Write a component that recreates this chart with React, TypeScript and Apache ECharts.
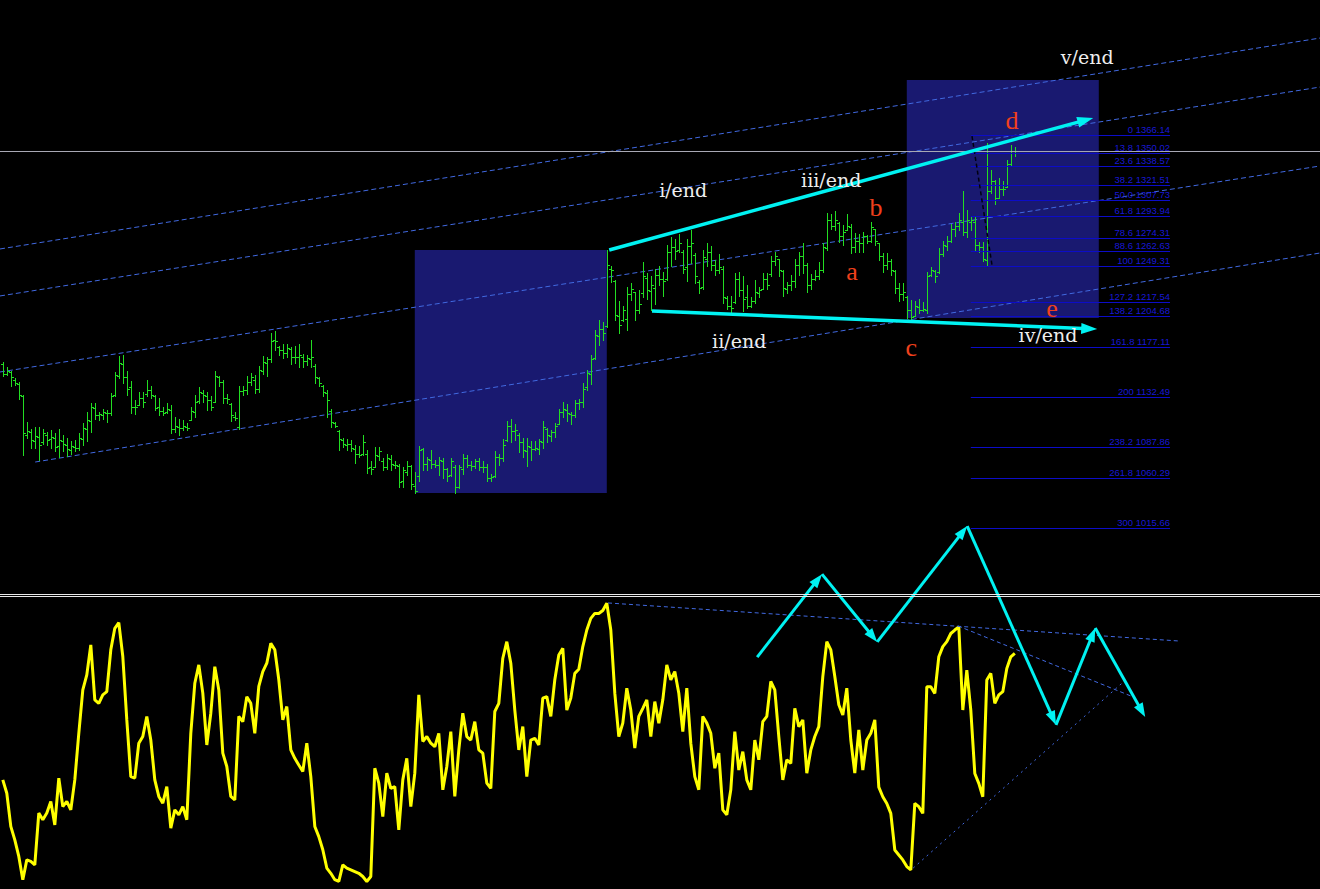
import React, { useEffect, useRef } from 'react';
import * as echarts from 'echarts';

// ---------- DATA ----------
// OHLC bars: [open, high, low, close]
const bars: number[][] = [
  [1162,1164,1151,1153],[1153,1159,1152,1156],[1155,1156,1142,1150],[1148,1149,1143,1145],[1144,1146,1131,1134],
  [1133,1134,1081,1100],[1099,1110,1096,1102],[1101,1104,1087,1094],[1093,1106,1087,1098],[1097,1106,1076,1090],
  [1092,1104,1091,1100],[1099,1101,1090,1094],[1095,1103,1087,1097],[1096,1100,1084,1088],[1089,1104,1079,1094],
  [1093,1099,1084,1091],[1090,1096,1080,1086],[1085,1093,1082,1089],[1088,1094,1084,1087],[1087,1100,1085,1096],
  [1095,1109,1090,1105],[1104,1119,1093,1112],[1111,1127,1101,1124],[1123,1127,1113,1116],[1116,1119,1112,1117],
  [1116,1122,1113,1119],[1118,1121,1110,1118],[1118,1136,1116,1133],[1134,1155,1133,1152],[1151,1169,1149,1163],
  [1162,1170,1145,1150],[1150,1156,1134,1140],[1141,1147,1118,1124],[1124,1130,1117,1124],[1125,1137,1125,1132],
  [1132,1137,1124,1128],[1135,1148,1133,1139],[1139,1142,1132,1134],[1133,1134,1121,1123],[1124,1132,1116,1120],
  [1120,1124,1116,1118],[1119,1127,1118,1122],[1121,1125,1100,1104],[1104,1115,1101,1107],[1106,1113,1099,1105],
  [1105,1112,1103,1107],[1106,1109,1103,1105],[1112,1124,1112,1120],[1119,1134,1115,1128],[1129,1141,1127,1137],
  [1136,1139,1128,1134],[1133,1137,1121,1130],[1130,1133,1121,1124],[1128,1156,1128,1151],[1150,1151,1142,1146],
  [1146,1148,1127,1132],[1132,1135,1127,1131],[1126,1127,1111,1116],[1115,1119,1112,1114],[1106,1142,1104,1138],
  [1138,1142,1134,1139],[1139,1151,1135,1146],[1146,1154,1143,1150],[1148,1152,1136,1140],[1140,1160,1137,1157],
  [1156,1169,1153,1164],[1163,1168,1151,1166],[1166,1190,1164,1182],[1183,1191,1174,1182],[1177,1178,1170,1174],
  [1174,1180,1167,1172],[1172,1180,1168,1176],[1175,1177,1162,1168],[1168,1178,1163,1168],[1168,1180,1159,1170],
  [1168,1171,1159,1165],[1165,1170,1161,1167],[1166,1183,1159,1168],[1160,1162,1145,1150],[1149,1150,1142,1145],
  [1142,1143,1133,1137],[1136,1139,1115,1130],[1120,1122,1106,1110],[1109,1110,1106,1107],[1102,1103,1085,1095],
  [1094,1096,1088,1091],[1090,1095,1085,1091],[1091,1094,1084,1087],[1086,1090,1074,1082],[1082,1089,1079,1081],
  [1082,1099,1081,1092],[1082,1085,1065,1069],[1070,1075,1064,1068],[1070,1088,1070,1081],[1080,1088,1076,1084],
  [1075,1078,1067,1070],[1070,1082,1068,1078],[1077,1081,1067,1073],[1072,1075,1069,1072],[1071,1073,1052,1057],
  [1058,1070,1052,1067],[1066,1075,1063,1071],[1071,1072,1050,1055],[1053,1066,1047,1049],[1062,1089,1058,1085],
  [1086,1087,1067,1073],[1073,1079,1067,1077],[1076,1085,1069,1073],[1073,1076,1070,1072],[1072,1079,1063,1076],
  [1075,1078,1060,1068],[1068,1069,1058,1062],[1063,1078,1062,1075],[1070,1072,1047,1052],[1052,1072,1051,1070],
  [1068,1082,1064,1078],[1078,1081,1070,1072],[1072,1075,1067,1071],[1071,1077,1069,1075],[1075,1078,1067,1070],
  [1070,1075,1066,1070],[1070,1073,1058,1060],[1060,1064,1058,1061],[1062,1084,1061,1079],[1079,1082,1072,1078],
  [1078,1095,1075,1090],[1094,1111,1093,1107],[1107,1113,1092,1102],[1102,1108,1094,1103],[1099,1100,1083,1092],
  [1092,1096,1079,1085],[1084,1096,1071,1089],[1088,1093,1076,1086],[1086,1093,1085,1087],[1086,1095,1082,1093],
  [1092,1111,1087,1106],[1104,1105,1092,1099],[1098,1103,1093,1101],[1101,1109,1097,1107],[1108,1122,1108,1119],
  [1119,1128,1115,1122],[1121,1126,1111,1118],[1117,1119,1108,1116],[1116,1130,1115,1127],[1127,1131,1122,1128],
  [1128,1145,1124,1140],[1141,1157,1139,1154],[1153,1170,1144,1166],[1167,1192,1166,1188],[1187,1201,1179,1193],
  [1193,1199,1183,1190],[1196,1264,1195,1250],[1247,1249,1235,1246],[1236,1237,1201,1206],[1205,1218,1190,1197],
  [1201,1214,1200,1210],[1202,1231,1192,1224],[1224,1234,1219,1229],[1226,1226,1201,1210],[1210,1228,1207,1215],
  [1225,1253,1222,1240],[1239,1243,1220,1228],[1227,1240,1210,1232],[1230,1247,1215,1241],[1241,1249,1232,1238],
  [1238,1244,1223,1236],[1238,1268,1237,1262],[1262,1275,1249,1266],[1266,1273,1256,1263],[1264,1278,1262,1270],
  [1262,1264,1243,1247],[1248,1273,1236,1267],[1267,1281,1252,1270],[1259,1261,1234,1240],[1235,1237,1225,1230],
  [1231,1264,1229,1257],[1256,1270,1249,1262],[1262,1267,1246,1250],[1250,1255,1241,1246],[1246,1260,1243,1248],
  [1247,1249,1216,1222],[1221,1223,1211,1214],[1214,1223,1207,1212],[1217,1243,1216,1238],[1238,1244,1223,1228],
  [1228,1240,1209,1220],[1222,1232,1212,1214],[1214,1222,1213,1218],[1218,1237,1216,1226],[1225,1231,1222,1228],
  [1229,1243,1229,1238],[1238,1243,1229,1232],[1242,1258,1240,1254],[1254,1262,1250,1258],[1256,1256,1240,1246],
  [1245,1246,1223,1230],[1229,1235,1225,1232],[1232,1241,1228,1236],[1236,1256,1231,1250],[1250,1262,1241,1258],
  [1258,1270,1243,1250],[1250,1252,1226,1232],[1232,1242,1229,1238],[1238,1246,1237,1240],[1240,1253,1238,1246],
  [1246,1270,1244,1266],[1265,1297,1264,1290],[1290,1296,1282,1285],[1285,1298,1281,1290],[1288,1289,1271,1276],
  [1276,1286,1268,1280],[1281,1296,1281,1285],[1284,1287,1261,1266],[1266,1279,1262,1272],[1272,1278,1262,1270],
  [1270,1280,1262,1276],[1276,1277,1270,1272],[1272,1289,1271,1284],[1282,1282,1268,1272],[1270,1270,1255,1258],
  [1258,1261,1244,1250],[1250,1261,1247,1254],[1254,1256,1241,1246],[1245,1246,1225,1230],[1230,1234,1218,1224],
  [1224,1234,1219,1226],[1222,1223,1203,1210],[1210,1219,1201,1204],[1205,1218,1205,1214],[1213,1220,1207,1210],
  [1210,1217,1209,1211],[1210,1244,1207,1240],[1241,1248,1240,1246],[1245,1246,1235,1240],[1244,1265,1243,1260],
  [1260,1272,1258,1268],[1267,1276,1264,1272],[1272,1287,1271,1282],[1282,1289,1276,1285],[1285,1297,1281,1290],
  [1289,1316,1277,1280],[1280,1299,1275,1290],[1289,1293,1281,1290],[1289,1293,1264,1268],[1268,1271,1262,1266],
  [1266,1271,1254,1256],[1255,1359,1249,1316],[1316,1335,1314,1325],[1325,1326,1305,1310],[1310,1328,1310,1318],
  [1318,1325,1313,1318],[1320,1344,1320,1340],[1340,1357,1339,1350],[1350,1355,1347,1352],
];

// oscillator values (0..100)
const oscillator: number[] = [
  37.5,32.9,21.5,16.9,11.2,3.2,10.0,9.5,8.3,26.1,
  23.8,26.1,30.1,22.0,38.1,28.3,30.1,27.2,37.5,53.5,
  68.4,73.6,83.9,65.0,63.8,66.7,67.8,82.2,89.6,91.5,
  79.9,58.1,38.6,38.1,50.1,52.4,59.3,51.2,37.5,31.8,
  29.5,35.2,20.9,27.2,25.5,28.3,23.8,53.5,70.7,77.0,
  67.3,49.5,60.4,76.4,68.4,46.7,42.1,31.8,30.6,59.3,
  57.5,66.1,63.8,53.5,69.6,74.7,77.6,84.4,82.2,71.9,
  58.1,62.7,47.8,44.9,42.6,40.4,50.1,38.6,21.5,18.0,
  13.5,7.2,5.4,3.2,2.6,8.3,7.2,6.6,6.0,5.4,
  4.3,2.6,4.3,41.5,36.4,24.9,39.8,34.6,35.2,20.3,
  37.5,44.9,28.3,39.8,66.7,50.7,52.4,50.1,48.9,53.5,
  34.1,42.1,54.1,31.8,47.8,60.4,52.4,51.2,57.5,47.8,
  46.7,36.4,34.6,61.0,63.8,79.3,85.0,77.6,61.5,47.8,
  55.8,38.6,51.2,51.8,49.5,65.6,66.1,59.3,71.9,80.4,
  82.7,61.5,65.6,74.1,75.5,83.3,89.0,93.0,94.7,94.7,
  95.7,98.2,89.0,67.3,52.4,57.0,69.0,61.5,48.4,59.3,
  62.1,65.0,52.4,64.4,57.0,65.0,77.0,71.9,74.7,67.3,
  54.1,69.0,50.1,38.6,34.1,59.3,57.0,53.5,41.5,46.7,
  27.2,25.5,34.1,54.1,40.9,47.2,37.5,34.1,51.2,44.4,
  57.5,59.3,71.3,68.4,52.4,37.5,44.4,43.2,62.1,55.8,
  58.1,39.8,47.8,52.4,55.8,73.0,85.0,82.2,73.0,63.3,
  59.8,69.0,51.2,39.8,54.7,40.9,51.2,53.5,58.1,35.0,
  31.7,29.4,26.0,13.4,11.7,10.0,7.7,6.6,29.4,28.3,
  26.0,69.5,69.5,67.2,79.8,83.3,85.0,87.8,89.0,90.1,
  61.5,75.2,61.5,39.7,36.3,31.7,71.8,74.1,63.8,66.7,
  67.8,75.8,79.8,81.0,
];

const fibRatios = ['0','13.8','23.6','38.2','50.0','61.8','78.6','88.6','100','127.2','138.2','161.8','200','238.2','261.8','300'];
const fibPrices = [1366.14,1350.02,1338.57,1321.51,1307.73,1293.94,1274.31,1262.63,1249.31,1217.54,1204.68,1177.11,1132.49,1087.86,1060.29,1015.66];
const fibSpan = [242, 291.8]; // bar index range of the fibo levels
const bidPrice = 1351.25;

// rectangles: [barFrom, priceLow, barTo, priceHigh]
const boxes = [[103, 1046.9, 151, 1263.6], [226, 1202.9, 274, 1415.2]];
// dashed channel lines: [bar1, price1, bar2, price2]
const channelLines = [
  [8.1, 1074.5, 329.3, 1260.9],
  [-0.7, 1154.8, 329.3, 1338.5],
  [-0.7, 1222.6, 329.3, 1408.9],
  [-0.7, 1264.5, 329.3, 1452.6],
];
const fibTrend = [[242.3, 1365.2, 247.3, 1250.2]];
const waveArrows = [[151.6, 1263.6, 272.6, 1381.3], [162.3, 1209.2, 273.6, 1193.1]];

const waveTags = ['i/end', 'ii/end', 'iii/end', 'iv/end', 'v/end'];
const waveTagBar = [170.1, 184.1, 207.1, 261.3, 271.1];
const waveTagPrice = [1317.1, 1182.4, 1326.0, 1187.8, 1435.7];
const legTags = ['a', 'b', 'c', 'd', 'e'];
const legTagBar = [212.3, 218.3, 227.1, 252.3, 262.3];
const legTagPrice = [1244.8, 1301.9, 1176.2, 1379.5, 1211.0];

// oscillator-panel lines: [bar1, value1, bar2, value2]
const oscDashed = [[151.3, 98.3, 294.3, 85.2], [238.8, 90.4, 282.6, 66.0]];
const oscDotted = [[227.6, 7.2, 280.1, 71.1]];
// forecast zig-zag in oscillator units: [bar, value]
const forecastPath = [[188.6, 79.7], [204.8, 108.2], [218.6, 84.9], [241.1, 124.7], [263.3, 56.4], [273.1, 89.7], [285.6, 59.1]];

// ---------- STYLE ----------
const GREEN = '#22dd22';
const CYAN = '#00f2f2';
const CHANNEL = '#4169e1';
const FIB = '#0c0cc8';

const segRender = (style: any, arrow?: { L: number; W: number }) => (_p: any, api: any) => {
  const a = api.coord([api.value(0), api.value(1)]);
  const b = api.coord([api.value(2), api.value(3)]);
  if (!arrow) {
    return { type: 'line', shape: { x1: a[0], y1: a[1], x2: b[0], y2: b[1] }, style };
  }
  const dx = b[0] - a[0], dy = b[1] - a[1];
  const len = Math.hypot(dx, dy) || 1;
  const ux = dx / len, uy = dy / len;
  const bx = b[0] - ux * arrow.L, by = b[1] - uy * arrow.L;
  return {
    type: 'group',
    children: [
      { type: 'line', shape: { x1: a[0], y1: a[1], x2: b[0] - ux * arrow.L * 0.5, y2: b[1] - uy * arrow.L * 0.5 }, style },
      {
        type: 'polygon',
        shape: { points: [[b[0], b[1]], [bx - uy * arrow.W, by + ux * arrow.W], [bx + uy * arrow.W, by - ux * arrow.W]] },
        style: { fill: style.stroke },
      },
    ],
  };
};

const buildOption = () => {
  const forecastSegs = forecastPath.slice(1).map((p, k) => [forecastPath[k][0], forecastPath[k][1], p[0], p[1]]);
  return {
    animation: false,
    backgroundColor: '#000000',
    grid: [
      { left: 0, top: 0, width: 1320, height: 593 },
      { left: 0, top: 598, width: 1320, height: 291 },
    ],
    xAxis: [
      { type: 'value', gridIndex: 0, min: -0.7, max: 329.3, show: false, splitLine: { show: false } },
      { type: 'value', gridIndex: 1, min: -0.7, max: 329.3, show: false, splitLine: { show: false } },
    ],
    yAxis: [
      { type: 'value', gridIndex: 0, min: 957.69, max: 1486.54, show: false, splitLine: { show: false } },
      { type: 'value', gridIndex: 1, min: 0, max: 100, show: false, splitLine: { show: false } },
    ],
    series: [
      {
        type: 'custom', name: 'boxes', xAxisIndex: 0, yAxisIndex: 0, z: 1,
        data: boxes,
        renderItem: (_p: any, api: any) => {
          const a = api.coord([api.value(0), api.value(3)]);
          const b = api.coord([api.value(2), api.value(1)]);
          return { type: 'rect', shape: { x: a[0], y: a[1], width: b[0] - a[0], height: b[1] - a[1] }, style: { fill: '#191970' } };
        },
      },
      {
        type: 'custom', name: 'channels', xAxisIndex: 0, yAxisIndex: 0, z: 2, clip: true,
        data: channelLines,
        renderItem: segRender({ stroke: CHANNEL, lineWidth: 1, lineDash: [5, 3] }),
      },
      {
        type: 'custom', name: 'bars', xAxisIndex: 0, yAxisIndex: 0, z: 3,
        data: bars.map((b, i) => [i, b[0], b[1], b[2], b[3]]),
        encode: { x: 0, y: [1, 2, 3, 4] },
        renderItem: (_p: any, api: any) => {
          const i = api.value(0);
          const pO = api.coord([i, api.value(1)]);
          const pH = api.coord([i, api.value(2)]);
          const pL = api.coord([i, api.value(3)]);
          const pC = api.coord([i, api.value(4)]);
          const x = Math.round(pH[0]) + 0.5;
          const yo = Math.round(pO[1]) + 0.5;
          const yc = Math.round(pC[1]) + 0.5;
          const st = { stroke: GREEN, lineWidth: 1 };
          return {
            type: 'group',
            children: [
              { type: 'line', shape: { x1: x, y1: Math.round(pH[1]), x2: x, y2: Math.round(pL[1]) + 1 }, style: st },
              { type: 'line', shape: { x1: x - 2.5, y1: yo, x2: x, y2: yo }, style: st },
              { type: 'line', shape: { x1: x, y1: yc, x2: x + 2.5, y2: yc }, style: st },
            ],
          };
        },
        markLine: {
          silent: true, symbol: 'none', label: { show: false },
          lineStyle: { color: '#a8a8b4', width: 1, type: 'solid' },
          data: [{ yAxis: bidPrice }],
        },
      },
      {
        type: 'custom', name: 'fibo', xAxisIndex: 0, yAxisIndex: 0, z: 4,
        data: fibPrices.map((p, k) => [k, p]),
        renderItem: (_p: any, api: any) => {
          const k = api.value(0);
          const p = api.value(1);
          const a = api.coord([fibSpan[0], p]);
          const b = api.coord([fibSpan[1], p]);
          const y = Math.round(a[1]) + 0.5;
          return {
            type: 'group',
            children: [
              { type: 'line', shape: { x1: a[0], y1: y, x2: b[0], y2: y }, style: { stroke: FIB, lineWidth: 1 } },
              {
                type: 'text', x: b[0], y: y - 1,
                style: {
                  text: `${fibRatios[k]} ${fibPrices[k].toFixed(2)}`, fill: '#1818d4',
                  fontSize: 9.5, fontFamily: '"Liberation Sans", Arial, sans-serif',
                  align: 'right', verticalAlign: 'bottom',
                },
              },
            ],
          };
        },
      },
      {
        type: 'custom', name: 'fibTrend', xAxisIndex: 0, yAxisIndex: 0, z: 4,
        data: fibTrend,
        renderItem: segRender({ stroke: '#000010', lineWidth: 1.5, lineDash: [4, 3] }),
      },
      {
        type: 'custom', name: 'waveArrows', xAxisIndex: 0, yAxisIndex: 0, z: 5,
        data: waveArrows,
        renderItem: segRender({ stroke: CYAN, lineWidth: 3.5 }, { L: 16, W: 5.5 }),
      },
      {
        type: 'custom', name: 'waveTags', xAxisIndex: 0, yAxisIndex: 0, z: 6,
        data: waveTags.map((_t, k) => [waveTagBar[k], waveTagPrice[k], k]),
        renderItem: (_p: any, api: any) => {
          const pt = api.coord([api.value(0), api.value(1)]);
          return {
            type: 'text', x: pt[0], y: pt[1],
            style: { text: waveTags[api.value(2)], fill: '#eeeeee', fontSize: 19, fontFamily: '"DejaVu Serif", serif', align: 'center', verticalAlign: 'middle' },
          };
        },
      },
      {
        type: 'custom', name: 'legTags', xAxisIndex: 0, yAxisIndex: 0, z: 6,
        data: legTags.map((_t, k) => [legTagBar[k], legTagPrice[k], k]),
        renderItem: (_p: any, api: any) => {
          const pt = api.coord([api.value(0), api.value(1)]);
          return {
            type: 'text', x: pt[0], y: pt[1],
            style: { text: legTags[api.value(2)], fill: '#f0401c', fontSize: 26, fontFamily: '"Liberation Serif", serif', align: 'center', verticalAlign: 'middle' },
          };
        },
      },
      {
        type: 'line', name: 'oscillator', xAxisIndex: 1, yAxisIndex: 1, z: 3,
        data: oscillator.map((v, i) => [i, v]),
        symbol: 'none', showSymbol: false,
        lineStyle: { color: '#ffff00', width: 3 },
      },
      {
        type: 'custom', name: 'oscDashed', xAxisIndex: 1, yAxisIndex: 1, z: 4,
        data: oscDashed,
        renderItem: segRender({ stroke: CHANNEL, lineWidth: 1, lineDash: [4, 3] }),
      },
      {
        type: 'custom', name: 'oscDotted', xAxisIndex: 1, yAxisIndex: 1, z: 4,
        data: oscDotted,
        renderItem: segRender({ stroke: CHANNEL, lineWidth: 1, lineDash: [2, 4] }),
      },
      {
        type: 'custom', name: 'forecast', xAxisIndex: 1, yAxisIndex: 1, z: 5,
        data: forecastSegs,
        renderItem: segRender({ stroke: CYAN, lineWidth: 3 }, { L: 14, W: 5 }),
      },
    ],
    graphic: [
      { type: 'line', z: 100, shape: { x1: 0, y1: 594.5, x2: 1320, y2: 594.5 }, style: { stroke: '#e8e8e8', lineWidth: 1 } },
      { type: 'line', z: 100, shape: { x1: 0, y1: 596.5, x2: 1320, y2: 596.5 }, style: { stroke: '#e8e8e8', lineWidth: 1 } },
    ],
  };
};

export default function App() {
  const ref = useRef<HTMLDivElement>(null);
  useEffect(() => {
    document.body.style.margin = '0';
    document.body.style.background = '#000';
    const chart = echarts.init(ref.current as HTMLDivElement, null, { renderer: 'svg' });
    chart.setOption(buildOption() as any);
    return () => chart.dispose();
  }, []);
  return <div ref={ref} style={{ width: 1320, height: 889, background: '#000' }} />;
}
